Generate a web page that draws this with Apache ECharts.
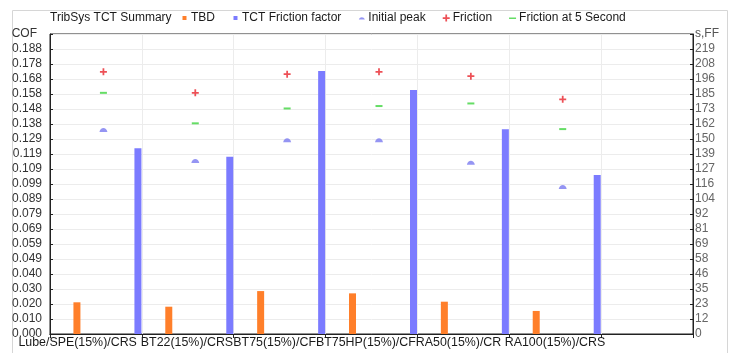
<!DOCTYPE html>
<html>
<head>
<meta charset="utf-8">
<script src="https://cdn.jsdelivr.net/npm/echarts@6/dist/echarts.min.js"></script>
<style>
html, body { margin: 0; padding: 0; background: #fff; }
#main { width: 739px; height: 353px; }
</style>
</head>
<body>
<div id="main"></div>
<script>
// test names (last slot of the axis is left empty, as in the original)
var categories = ['Lube/SPE(15%)/CRS', 'BT22(15%)/CRS', 'BT75(15%)/CF', 'BT75HP(15%)/CF', 'RA50(15%)/CR', 'RA100(15%)/CRS', ''];

// COF (left axis)
var tbd = [0.0209, 0.0180, 0.0283, 0.0268, 0.0213, 0.0152];
var initialPeak = [0.1345, 0.1140, 0.1278, 0.1278, 0.1129, 0.0969];
var friction = [0.1729, 0.1590, 0.1713, 0.1729, 0.1700, 0.1547];
var friction5s = [0.1590, 0.1389, 0.1487, 0.1503, 0.1520, 0.1351];

// s,FF (right axis)
var frictionFactor = [143.0, 136.5, 202.5, 187.9, 157.6, 122.4];

// tick steps of both axes
var cofStep = 0.00989;
var ffStep = 11.551;

// horizontal nudge of each category label (px), labels run into each other
var labelShift = [-18.3, -0.8, -5, -5.6, -4.8, -0.2, 0];

var font = 'Liberation Sans, Arial, sans-serif';
var plusPath = 'path://M3,0H5V3H8V5H5V8H3V5H0V3H3Z';
var peakPath = 'path://M0,4C1,0.5 7,0.5 8,4Z';

var myChart = echarts.init(document.getElementById('main'));

var xData = categories.map(function (c, i) {
    var s = labelShift[i];
    return {
        value: c,
        textStyle: { padding: s < 0 ? [0, -2 * s, 0, 0] : [0, 0, 0, 2 * s] }
    };
});

var option = {
    animation: false,
    textStyle: { fontFamily: font },
    graphic: [{
        type: 'rect',
        silent: true,
        z: -10,
        shape: { x: 12.5, y: 10.5, width: 715, height: 360 },
        style: { fill: 'none', stroke: '#d6d6d6', lineWidth: 1 }
    }],
    title: {
        text: 'TribSys TCT Summary',
        left: 50,
        top: 12,
        padding: 0,
        textStyle: { fontSize: 12, fontWeight: 'normal', color: '#1a1a1a', fontFamily: font }
    },
    legend: {
        left: 181,
        top: 12,
        padding: 0,
        itemWidth: 7,
        itemHeight: 7,
        itemGap: 17,
        textStyle: { fontSize: 12, color: '#1a1a1a', fontFamily: font, padding: [0, 0, 0, -2] },
        data: [
            { name: 'TBD', icon: 'path://M0,0L0.01,0M1.5,1.5H5.5V5.5H1.5ZM7,7L7.01,7' },
            { name: 'TCT Friction factor', icon: 'path://M0,0L0.01,0M1.5,1.5H5.5V5.5H1.5ZM7,7L7.01,7' },
            { name: 'Initial peak', icon: 'path://M0,0L0.01,0M0.5,5C1.5,2 5.5,2 6.5,5ZM7,7L7.01,7' },
            { name: 'Friction', icon: plusPath },
            { name: 'Friction at 5 Second', icon: 'path://M0,0L0.01,0M0,3H7V4.5H0ZM7,7L7.01,7' }
        ]
    },
    grid: {
        left: 50,
        right: 46,
        top: 34,
        bottom: 19,
        show: true,
        borderColor: '#222',
        borderWidth: 1,
        backgroundColor: 'transparent'
    },
    xAxis: [{
        type: 'category',
        data: xData,
        axisLine: { lineStyle: { color: '#222' } },
        axisTick: { show: false },
        axisLabel: { interval: 0, margin: 3, fontSize: 12.4, color: '#1a1a1a', fontFamily: font },
        splitLine: { show: true, interval: 0, lineStyle: { color: '#ececec' } }
    }, {
        type: 'category',
        position: 'top',
        data: categories,
        axisLine: { lineStyle: { color: '#222' } },
        axisTick: { show: true, inside: true, length: 4, interval: 0, lineStyle: { color: '#222' } },
        axisLabel: { show: false }
    }],
    yAxis: [{
        type: 'value',
        min: 0,
        max: cofStep * 20,
        interval: cofStep,
        name: 'COF',
        nameLocation: 'end',
        nameGap: 0,
        nameTextStyle: { align: 'right', verticalAlign: 'middle', padding: [0, 13, 0, 0], fontSize: 12, color: '#333', fontFamily: font },
        axisLine: { show: true, lineStyle: { color: '#222' } },
        axisTick: { show: true, inside: true, length: 3, lineStyle: { color: '#222' } },
        axisLabel: {
            margin: 8,
            fontSize: 12,
            color: '#333',
            fontFamily: font,
            formatter: function (v) { return v > cofStep * 19.5 ? '' : v.toFixed(3); }
        },
        splitLine: { show: true, lineStyle: { color: '#ececec' } }
    }, {
        type: 'value',
        position: 'right',
        min: 0,
        max: ffStep * 20,
        interval: ffStep,
        name: 's,FF',
        nameLocation: 'end',
        nameGap: 0,
        nameTextStyle: { align: 'left', verticalAlign: 'middle', padding: [0, 0, 0, 2], fontSize: 12, color: '#555', fontFamily: font },
        axisLine: { show: true, lineStyle: { color: '#222' } },
        axisTick: { show: true, inside: true, length: 3, lineStyle: { color: '#222' } },
        axisLabel: {
            margin: 2,
            fontSize: 12,
            color: '#666',
            fontFamily: font,
            formatter: function (v) { return v > ffStep * 19.5 ? '' : String(Math.round(v)); }
        },
        splitLine: { show: false }
    }],
    series: [{
        name: 'TBD',
        type: 'pictorialBar',
        yAxisIndex: 0,
        symbol: 'rect',
        symbolSize: [7, '100%'],
        symbolOffset: [-19, 0],
        itemStyle: { color: '#ff7f2a' },
        data: tbd
    }, {
        name: 'TCT Friction factor',
        type: 'pictorialBar',
        yAxisIndex: 1,
        symbol: 'rect',
        symbolSize: [7, '100%'],
        symbolOffset: [42, 0],
        itemStyle: { color: '#7b7bff' },
        data: frictionFactor
    }, {
        name: 'Initial peak',
        type: 'scatter',
        yAxisIndex: 0,
        symbol: peakPath,
        symbolSize: [8, 4],
        symbolOffset: [7.5, 0],
        itemStyle: { color: '#7b7bf0' },
        data: initialPeak
    }, {
        name: 'Friction',
        type: 'scatter',
        yAxisIndex: 0,
        symbol: plusPath,
        symbolSize: 7,
        symbolOffset: [7.5, 0],
        itemStyle: { color: '#e8242c' },
        data: friction
    }, {
        name: 'Friction at 5 Second',
        type: 'scatter',
        yAxisIndex: 0,
        symbol: 'rect',
        symbolSize: [7, 2],
        symbolOffset: [7.5, 0],
        itemStyle: { color: '#3ed43e' },
        data: friction5s
    }]
};

myChart.setOption(option);
</script>
</body>
</html>
